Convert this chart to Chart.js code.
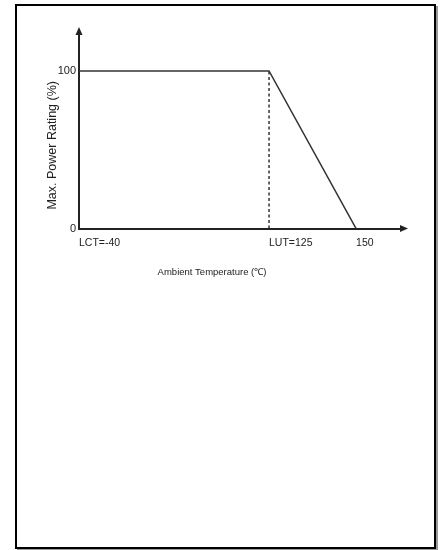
<!DOCTYPE html>
<html>
<head>
<meta charset="utf-8">
<script src="https://cdn.jsdelivr.net/npm/chart.js@4"></script>
<style>
    body { margin: 0; background: #fff; }
    #frame { position: absolute; left: 15px; top: 4px; width: 417px; height: 541px;
             border: 2px solid #000; box-shadow: 2px 2px 0 #999; }
    #derating { position: absolute; left: 0; top: 0; }
</style>
</head>
<body>
<div id="frame"></div>
<canvas id="derating" width="442" height="290"></canvas>
<script>
// derating curve
var temps = [-40, 125, 150];
var ratings = [100, 100, 0];
// dashed marker at LUT
var lutTemp = [125, 125];
var lutRating = [0, 100];
// ticks
var xTickValues = [-40, 125, 150];
var xTickLabels = ['LCT=-40', 'LUT=125', '150'];
var yTickValues = [0, 100];

var axisColor = '#222';
var textColor = '#222';

// linear scale with two segments, so the range past LUT gets stretched like in the datasheet
class SplitScale extends Chart.LinearScale {
    static id = 'split';
    static defaults = {};
    toDecimal(value) {
        var s = this.options.split;
        if (value <= s.value) return (value - this.min) / (s.value - this.min) * s.at;
        return s.at + (value - s.value) / (this.max - s.value) * (1 - s.at);
    }
    getPixelForValue(value) {
        if (value === null) return NaN;
        return this.getPixelForDecimal(this.toDecimal(value));
    }
    getValueForPixel(pixel) {
        var s = this.options.split;
        var d = this.getDecimalForPixel(pixel);
        if (d <= s.at) return this.min + d / s.at * (s.value - this.min);
        return s.value + (d - s.at) / (1 - s.at) * (this.max - s.value);
    }
}
Chart.register(SplitScale);

var arrows = {
    id: 'arrows',
    afterDraw: function(chart) {
        var ctx = chart.ctx, a = chart.chartArea;
        var xTip = a.right + 8, yTip = a.top - 35;
        ctx.save();
        ctx.strokeStyle = axisColor;
        ctx.fillStyle = axisColor;
        ctx.lineWidth = 2;
        ctx.beginPath();
        ctx.moveTo(a.right, a.bottom); ctx.lineTo(xTip - 4, a.bottom);
        ctx.moveTo(a.left, a.top); ctx.lineTo(a.left, yTip + 4);
        ctx.stroke();
        ctx.beginPath();
        ctx.moveTo(xTip, a.bottom); ctx.lineTo(xTip - 8, a.bottom - 3.5); ctx.lineTo(xTip - 8, a.bottom + 3.5);
        ctx.closePath(); ctx.fill();
        ctx.beginPath();
        ctx.moveTo(a.left, yTip); ctx.lineTo(a.left - 3.5, yTip + 8); ctx.lineTo(a.left + 3.5, yTip + 8);
        ctx.closePath(); ctx.fill();
        ctx.restore();
    }
};

function pts(xs, ys) {
    return xs.map(function(x, i) { return {x: x, y: ys[i]}; });
}

var ctx = document.getElementById('derating').getContext('2d');
window.derating = new Chart(ctx, {
    type: 'line',
    data: {
        datasets: [{
            data: pts(temps, ratings),
            borderColor: '#333',
            borderWidth: 1.5,
            pointRadius: 0,
            tension: 0
        }, {
            data: pts(lutTemp, lutRating),
            borderColor: '#333',
            borderWidth: 1.5,
            borderDash: [3, 2.5],
            pointRadius: 0
        }]
    },
    options: {
        responsive: false,
        animation: false,
        layout: { padding: { left: 24, right: 42, top: 62, bottom: 0 } },
        plugins: {
            legend: { display: false },
            tooltip: { enabled: false },
            title: {
                display: true,
                position: 'bottom',
                text: 'Ambient Temperature (℃)',
                color: textColor,
                font: { family: 'Liberation Sans', size: 9.5, weight: 'normal' },
                padding: { top: 10, bottom: 12 }
            }
        },
        scales: {
            x: {
                type: 'split',
                position: 'bottom',
                min: -40,
                max: 162.6,
                split: { value: 125, at: 0.592 },
                bounds: 'data',
                grid: { display: false, drawTicks: false },
                border: { display: true, color: axisColor, width: 2 },
                afterBuildTicks: function(scale) {
                    scale.ticks = xTickValues.map(function(v) { return {value: v}; });
                },
                afterFit: function(scale) { scale.height = 28; },
                ticks: {
                    align: 'start',
                    padding: 8,
                    autoSkip: false,
                    maxRotation: 0,
                    color: textColor,
                    font: { family: 'Liberation Sans', size: 10.5 },
                    callback: function(v, i) { return xTickLabels[i]; }
                }
            },
            y: {
                min: 0,
                max: 105.7,
                bounds: 'data',
                grid: { display: false, drawTicks: false },
                border: { display: true, color: axisColor, width: 2 },
                afterBuildTicks: function(scale) {
                    scale.ticks = yTickValues.map(function(v) { return {value: v}; });
                },
                afterFit: function(scale) { scale.width = 55; },
                ticks: {
                    padding: 3,
                    color: textColor,
                    font: { family: 'Liberation Sans', size: 11 }
                },
                title: {
                    display: true,
                    text: 'Max. Power Rating (%)',
                    color: textColor,
                    font: { family: 'Liberation Sans', size: 12.5 },
                    padding: { top: 21, bottom: 0 }
                }
            }
        }
    },
    plugins: [arrows]
});
</script>
</body>
</html>
